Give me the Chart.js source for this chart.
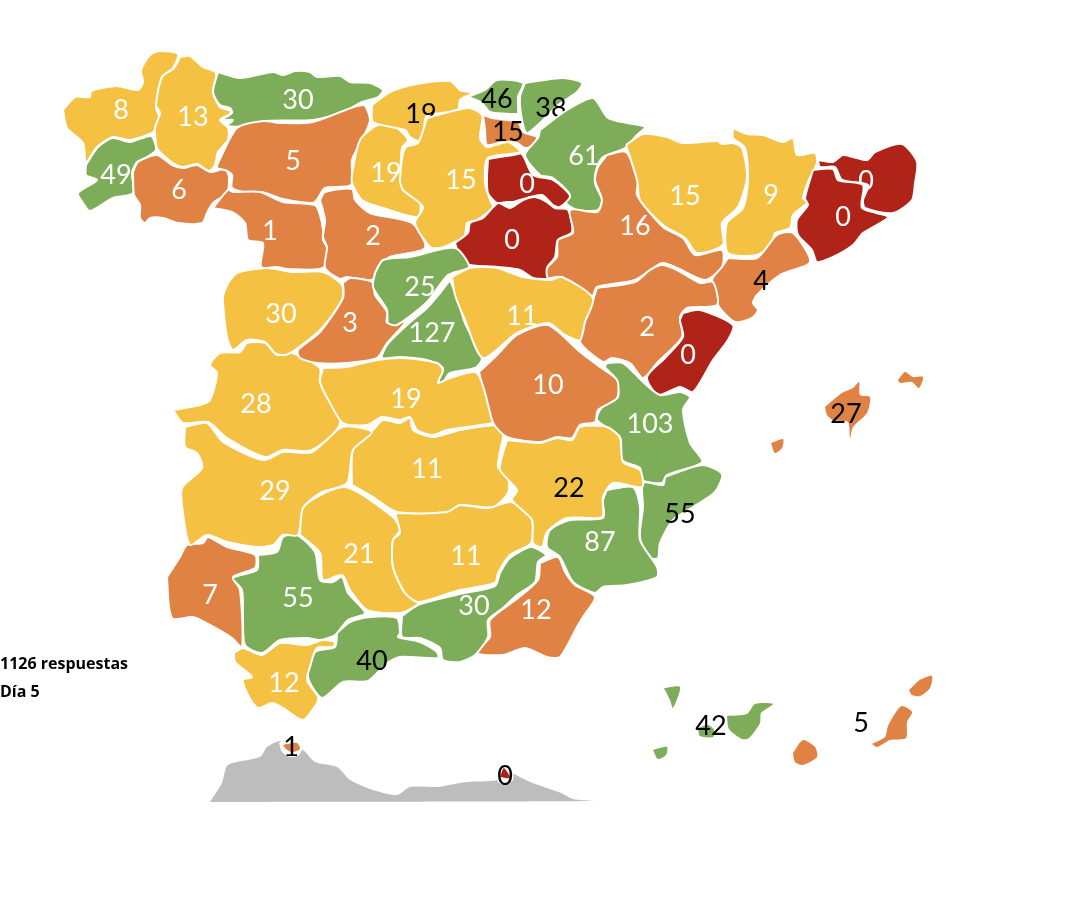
<!DOCTYPE html>
<html>
<head>
<meta charset="utf-8">
<title>Respuestas por provincia</title>
<script src="https://cdn.jsdelivr.net/npm/chart.js@4"></script>
<style>
  html, body { margin: 0; padding: 0; background: #fff; }
  #wrap { width: 1090px; height: 902px; }
</style>
</head>
<body>
<div id="wrap"><canvas id="mapChart" width="1090" height="902"></canvas></div>
<script>
// --------- Data --------

// Later provinces are drawn on top of earlier ones (some labels get cut off by a neighbour)
const provinces = ['Coruña', 'Lugo', 'Asturias', 'Pontevedra', 'Ourense', 'León', 'Zamora', 'Valladolid', 'Palencia',
  'Cantabria', 'Burgos', 'Bizkaia', 'Gipuzkoa', 'Álava', 'Navarra', 'La Rioja', 'Soria', 'Zaragoza', 'Huesca', 'Lleida',
  'Girona', 'Barcelona', 'Tarragona', 'Teruel', 'Castellón', 'Valencia', 'Alicante', 'Murcia', 'Almería', 'Granada',
  'Málaga', 'Cádiz', 'Huelva', 'Sevilla', 'Córdoba', 'Jaén', 'Ciudad Real', 'Badajoz', 'Cáceres', 'Salamanca', 'Ávila',
  'Segovia', 'Madrid', 'Guadalajara', 'Cuenca', 'Albacete', 'Toledo', 'Baleares', 'Tenerife', 'Las Palmas', 'Marruecos',
  'Ceuta', 'Melilla'];

const values = [8, 13, 30, 49, 6, 5, 1, 2, 19, 19, 15, 46, 38, 15, 61, 0, 0, 16, 15, 9, 0, 0, 4, 2, 0, 103, 55, 87, 12, 30,
  40, 12, 7, 55, 21, 11, 11, 29, 28, 30, 3, 25, 127, 11, 10, 22, 19, 27, 42, 5, null, 1, 0];

const bands = ['yellow', 'yellow', 'green', 'green', 'orange', 'orange', 'orange', 'orange', 'yellow', 'yellow', 'yellow',
  'green', 'green', 'orange', 'green', 'red', 'red', 'orange', 'yellow', 'yellow', 'red', 'red', 'orange', 'orange', 'red',
  'green', 'green', 'green', 'orange', 'green', 'green', 'yellow', 'orange', 'green', 'yellow', 'yellow', 'yellow', 'yellow',
  'yellow', 'yellow', 'orange', 'green', 'green', 'yellow', 'orange', 'yellow', 'yellow', 'orange', 'green', 'orange', 'grey',
  'orange', 'red'];

const labelX = [121, 193, 298, 116, 179, 293, 270, 373, 386, 421, 461, 497, 551, 508, 584, 527, 512, 635, 685, 771, 866, 843,
  761, 647, 688, 650, 680, 600, 536, 474, 372, 284, 210, 298, 359, 466, 427, 275, 256, 281, 350, 420, 432, 522, 548, 569, 406,
  846, 711, 861, null, 291, 505];

const labelY = [110, 117, 100, 175, 190, 161, 231, 236, 173, 114, 180, 99, 108, 132, 156, 184, 240, 226, 196, 195, 181, 217,
  281, 327, 355, 424, 514, 542, 610, 606, 661, 683, 595, 598, 554, 556, 469, 491, 404, 314, 323, 287, 333, 316, 385, 488, 399,
  414, 726, 723, null, 747, 776];

const darkLabels = ['Cantabria', 'Bizkaia', 'Gipuzkoa', 'Álava', 'Tarragona', 'Baleares', 'Albacete', 'Alicante', 'Málaga',
  'Tenerife', 'Las Palmas', 'Ceuta', 'Melilla'];

const notes = ['1126 respuestas', 'Día 5'];
const noteY = [664, 692];

// Outlines (x, y in picture pixels)
const coruna = [[63,110],[75,97],[90,97],[91,91],[117,86],[138,90],[143,82],[141,70],[150,55],[160,51],[178,54],[173,68],[162,78],[160,100],[156,107],[160,120],[157,127],[152,133],[130,140],[113,137],[97,147],[86,162],[83,143],[67,128]];
const lugo = [[180,57],[190,56],[203,67],[216,73],[213,92],[220,107],[231,111],[230,114],[220,120],[228,128],[228,140],[218,152],[215,165],[209,171],[197,164],[183,167],[173,163],[163,155],[157,148],[155,128],[160,113],[156,105],[162,77],[174,68]];
const asturias = [[218,72],[240,78],[273,72],[283,75],[295,71],[310,72],[317,77],[340,76],[350,82],[370,83],[383,90],[378,97],[362,102],[343,112],[313,120],[267,121],[250,126],[227,126],[233,120],[222,120],[232,113],[230,108],[220,105],[213,92]];
const pontevedra = [[86,165],[98,147],[113,138],[130,142],[151,136],[156,150],[147,157],[137,162],[132,173],[133,193],[113,198],[90,211],[83,203],[78,193],[97,180],[86,175]];
const ourense = [[133,172],[138,162],[157,155],[172,165],[183,168],[197,165],[210,172],[225,169],[229,177],[227,193],[213,203],[207,213],[202,223],[178,223],[163,218],[150,218],[145,223],[140,218],[140,205],[134,195]];
const leon = [[218,163],[237,128],[263,121],[280,123],[313,122],[363,105],[370,120],[362,140],[352,160],[351,185],[325,188],[318,198],[313,203],[283,199],[262,192],[250,193],[232,188],[232,175],[225,170],[217,168]];
const zamora = [[213,208],[228,190],[233,192],[260,192],[283,202],[315,205],[320,215],[323,230],[323,240],[327,248],[323,268],[287,269],[277,267],[261,267],[263,243],[248,240],[245,223],[232,212]];
const valladolid = [[320,200],[325,192],[352,189],[355,200],[370,213],[412,223],[425,248],[390,257],[378,267],[372,280],[347,277],[340,279],[325,268],[327,247],[323,237],[325,220]];
const palencia = [[352,173],[360,140],[378,125],[397,128],[408,140],[402,148],[402,180],[420,203],[418,217],[383,208],[362,200],[352,183]];
const cantabria = [[372,105],[390,92],[417,84],[450,81],[460,90],[472,93],[460,100],[458,110],[428,115],[425,120],[422,142],[410,137],[405,130],[373,122]];
const burgos = [[427,118],[468,108],[482,115],[480,138],[487,147],[508,142],[520,152],[488,158],[485,183],[490,200],[493,207],[477,220],[467,223],[465,235],[455,242],[440,248],[430,247],[415,223],[423,207],[403,190],[400,180],[405,148],[418,143]];
const bizkaia = [[465,98],[485,90],[497,80],[523,83],[518,97],[518,113],[513,114],[490,112],[482,103],[468,97]];
const gipuzkoa = [[525,83],[563,78],[582,83],[577,92],[558,105],[540,123],[527,133],[522,120],[520,97]];
const alava = [[483,115],[492,118],[518,122],[523,132],[537,137],[533,145],[525,148],[517,143],[503,142],[487,145],[485,130]];
const navarra = [[540,130],[567,110],[593,98],[608,118],[627,123],[645,127],[637,135],[625,148],[603,157],[597,167],[595,183],[602,200],[598,210],[577,210],[565,202],[570,195],[553,178],[540,175],[525,155],[538,138]];
const rioja = [[488,159],[513,155],[522,154],[533,175],[553,180],[570,196],[560,207],[553,205],[542,195],[527,198],[513,202],[507,202],[497,203],[488,193],[487,177]];
const soria = [[455,243],[468,233],[470,223],[483,218],[498,203],[510,208],[523,200],[535,197],[547,202],[555,208],[568,210],[572,232],[558,240],[555,257],[547,268],[552,278],[533,278],[520,270],[497,267],[463,263]];
const zaragoza = [[607,155],[626,152],[638,180],[637,195],[663,227],[683,238],[695,255],[722,250],[722,267],[705,280],[677,268],[662,263],[635,280],[597,287],[592,296],[560,277],[548,278],[547,268],[557,257],[558,240],[573,233],[570,210],[597,212],[602,200],[595,180],[598,167]];
const huesca = [[626,145],[643,134],[667,137],[683,143],[717,141],[722,144],[733,143],[742,148],[747,177],[738,207],[722,223],[723,245],[697,253],[685,238],[663,225],[640,200],[637,180]];
const lleida = [[733,128],[747,134],[763,135],[783,142],[793,138],[797,155],[815,153],[817,163],[808,182],[803,198],[807,203],[793,215],[790,228],[775,233],[772,243],[757,255],[728,253],[727,223],[743,208],[748,180],[745,148],[733,138]];
const girona = [[818,160],[833,162],[843,155],[867,160],[875,152],[902,144],[917,162],[915,183],[912,200],[893,213],[865,208],[863,200],[868,185],[842,180],[835,167],[820,167]];
const barcelona = [[813,170],[833,169],[838,180],[863,185],[862,208],[888,217],[863,233],[853,245],[833,257],[817,262],[812,250],[798,235],[797,220],[808,205],[805,198]];
const tarragona = [[728,258],[757,258],[777,235],[793,233],[810,262],[780,275],[757,295],[753,303],[758,310],[752,318],[735,322],[718,305],[712,280],[722,267]];
const teruel = [[597,288],[635,282],[650,270],[662,265],[677,270],[700,283],[713,282],[717,305],[687,308],[680,317],[682,337],[657,363],[643,378],[630,363],[612,358],[603,362],[580,342],[585,320],[593,300]];
const castellon = [[683,313],[700,310],[733,325],[728,340],[713,360],[693,392],[680,387],[658,395],[647,377],[665,358],[683,337],[680,320]];
const valencia = [[607,363],[623,363],[643,382],[660,395],[680,392],[690,397],[683,410],[690,443],[702,462],[667,475],[662,483],[642,480],[640,468],[622,460],[620,437],[597,420],[602,407],[618,397],[615,378],[605,367]];
const alicante = [[665,477],[702,465],[722,474],[715,492],[693,507],[673,520],[660,543],[658,558],[650,558],[640,538],[643,507],[643,483],[663,485]];
const murcia = [[607,490],[633,487],[640,507],[640,540],[657,567],[657,577],[627,585],[603,587],[595,593],[573,582],[560,557],[547,547],[550,530],[570,520],[603,518],[603,500]];
const almeria = [[540,563],[558,557],[565,572],[575,585],[595,597],[583,617],[577,627],[560,657],[547,657],[525,648],[503,655],[477,653],[490,637],[490,620],[518,598],[538,580]];
const granada = [[402,616],[418,605],[460,594],[495,586],[500,573],[510,558],[531,547],[546,555],[538,562],[535,582],[517,595],[503,608],[488,620],[488,637],[475,655],[460,662],[443,660],[440,648],[420,638],[402,637]];
const malaga = [[337,633],[350,622],[370,617],[397,618],[400,633],[398,637],[420,642],[437,652],[438,658],[400,657],[387,663],[368,681],[343,682],[322,698],[308,677],[315,652],[335,647]];
const cadiz = [[234,653],[243,648],[262,655],[280,643],[307,645],[323,640],[335,642],[333,647],[317,648],[310,667],[307,680],[318,697],[317,703],[303,720],[283,708],[272,703],[258,708],[248,695],[243,680],[252,677],[235,662]];
const huelva = [[167,577],[180,557],[187,545],[203,543],[208,537],[227,547],[255,555],[255,568],[233,577],[240,590],[242,647],[232,638],[210,625],[193,617],[173,619],[169,607]];
const sevilla = [[258,555],[277,552],[283,537],[297,535],[315,552],[320,580],[333,582],[342,577],[348,593],[365,613],[348,620],[335,635],[320,640],[307,638],[280,640],[262,653],[245,645],[243,617],[242,590],[233,578],[257,570]];
const cordoba = [[300,535],[303,507],[345,487],[393,517],[400,530],[393,540],[393,567],[405,593],[418,600],[417,605],[400,613],[367,610],[350,590],[342,575],[323,580],[320,553]];
const jaen = [[395,513],[420,513],[460,505],[487,508],[510,502],[523,508],[532,520],[531,543],[510,555],[498,573],[495,583],[460,590],[450,593],[418,602],[405,593],[393,567],[393,540],[400,533]];
const ciudadReal = [[352,485],[353,450],[373,430],[383,420],[400,423],[410,418],[413,430],[433,437],[460,430],[503,425],[503,437],[498,467],[508,477],[508,493],[493,507],[460,505],[447,512],[397,512],[373,497]];
const badajoz = [[185,427],[207,423],[223,442],[263,460],[283,452],[312,452],[342,427],[372,432],[353,450],[347,483],[320,493],[303,508],[298,535],[283,535],[273,545],[257,547],[227,542],[207,535],[190,545],[183,513],[182,488],[202,468],[197,453],[185,447]];
const caceres = [[173,410],[200,405],[210,400],[217,373],[210,365],[220,353],[240,352],[247,343],[265,343],[277,355],[292,353],[320,368],[320,382],[340,423],[312,450],[283,450],[265,457],[227,438],[208,422],[183,423]];
const salamanca = [[228,283],[237,273],[267,268],[293,272],[323,272],[342,285],[342,300],[320,330],[295,350],[285,355],[275,353],[265,342],[247,340],[233,350],[227,337],[223,297]];
const avila = [[343,283],[350,278],[372,282],[375,295],[387,312],[387,323],[405,322],[387,343],[377,358],[347,363],[317,363],[300,358],[298,350],[320,332],[343,298]];
const segovia = [[375,273],[383,260],[410,257],[455,248],[469,267],[448,275],[427,302],[397,325],[388,323],[387,310],[373,287]];
const madrid = [[450,280],[457,297],[465,323],[482,358],[475,368],[450,373],[442,383],[437,380],[443,368],[427,360],[400,357],[382,358],[387,345],[407,325],[427,308],[440,293]];
const guadalajara = [[452,277],[470,268],[497,268],[523,277],[550,280],[562,277],[593,298],[585,322],[580,340],[565,335],[548,323],[517,333],[483,358],[465,320],[455,295]];
const cuenca = [[479,372],[497,355],[517,335],[548,325],[580,352],[600,367],[617,380],[617,398],[598,410],[595,422],[580,425],[572,438],[557,437],[540,442],[507,437],[493,423],[485,397]];
const albacete = [[507,440],[540,443],[557,438],[572,440],[580,427],[607,427],[620,438],[623,462],[640,470],[642,487],[613,483],[603,497],[602,517],[567,518],[547,532],[542,547],[533,543],[532,520],[512,500],[517,490],[500,470],[503,453]];
const toledo = [[323,368],[347,367],[377,360],[403,358],[437,363],[443,370],[438,383],[450,378],[477,373],[492,420],[493,423],[447,430],[433,435],[417,430],[410,417],[400,420],[382,417],[367,425],[343,423],[330,403],[320,382]];
const mallorca = [[825,407],[842,393],[853,388],[859,382],[860,395],[870,397],[867,413],[853,427],[850,438],[848,422],[833,420],[827,415]];
const menorca = [[898,380],[905,372],[913,377],[923,377],[919,388],[912,382],[900,383]];
const ibiza = [[771,443],[783,439],[782,448],[775,453]];
const laPalma = [[664,688],[680,687],[673,708],[670,700]];
const hierro = [[653,750],[667,747],[666,755],[658,759]];
const gomera = [[698,728],[708,725],[714,730],[713,737],[700,736]];
const tenerife = [[727,716],[747,714],[755,704],[773,704],[761,713],[760,723],[749,738],[742,739],[729,729]];
const granCanaria = [[793,753],[803,740],[815,747],[817,757],[803,765],[795,762]];
const fuerteventura = [[872,744],[885,737],[888,726],[896,712],[902,706],[912,712],[907,722],[906,738],[890,740],[877,747]];
const lanzarote = [[909,690],[920,680],[932,676],[930,688],[920,696],[912,695]];
const marruecos = [[210,802],[222,783],[228,765],[260,757],[267,747],[280,741],[290,745],[303,750],[315,762],[337,767],[350,780],[373,790],[397,795],[410,787],[437,787],[467,782],[497,780],[506,770],[516,775],[530,782],[561,793],[573,799],[593,801]];
const ceutaHalo = [[279,743],[285,738],[298,738],[303,745],[299,755],[290,757],[282,752]];
const ceuta = [[283,745],[297,743],[300,749],[292,752],[286,749]];
const melillaHalo = [[497,772],[503,765],[512,770],[513,780],[505,785],[498,782]];
const melilla = [[500,777],[504,768],[510,778]];

const outlines = [[coruna], [lugo], [asturias], [pontevedra], [ourense], [leon], [zamora], [valladolid], [palencia],
  [cantabria], [burgos], [bizkaia], [gipuzkoa], [alava], [navarra], [rioja], [soria], [zaragoza], [huesca], [lleida],
  [girona], [barcelona], [tarragona], [teruel], [castellon], [valencia], [alicante], [murcia], [almeria], [granada],
  [malaga], [cadiz], [huelva], [sevilla], [cordoba], [jaen], [ciudadReal], [badajoz], [caceres], [salamanca], [avila],
  [segovia], [madrid], [guadalajara], [cuenca], [albacete], [toledo], [ibiza, menorca, mallorca],
  [laPalma, hierro, tenerife, gomera], [lanzarote, fuerteventura, granCanaria], [marruecos], [ceutaHalo, ceuta], [melillaHalo, melilla]];

// --------- Chart --------

const bandColors = { red: '#B02318', orange: '#E08243', yellow: '#F5C143', green: '#7EAD59', grey: '#BDBDBD' };

const datasets = [];
provinces.forEach((name, p) => {
    outlines[p].forEach((ring, r) => {
        const isHalo = ring === ceutaHalo || ring === melillaHalo;
        const color = isHalo ? '#ffffff' : bandColors[bands[p]];
        datasets.push({
            label: name,
            province: p,
            lastRing: r === outlines[p].length - 1,
            data: ring.concat([ring[0]]).map(pt => ({ x: pt[0], y: pt[1] })),
            showLine: true,
            fill: 'shape',
            tension: 0.25,
            backgroundColor: color,
            borderColor: bands[p] === 'grey' ? color : '#ffffff',
            borderWidth: bands[p] === 'grey' || outlines[p].length > 1 ? 0 : 2,
            pointRadius: 0
        });
    });
});
// first ones go underneath
datasets.forEach((d, i) => { d.order = datasets.length - i; });

// draws a province value right after its shape, so later shapes can cover it
const valueLabels = {
    id: 'valueLabels',
    afterDatasetDraw(chart, args) {
        const ds = chart.data.datasets[args.index];
        const p = ds.province;
        if (!ds.lastRing || values[p] === null) return;
        const ctx = chart.ctx;
        ctx.save();
        ctx.font = '27px Lato';
        ctx.textAlign = 'center';
        ctx.textBaseline = 'middle';
        ctx.fillStyle = darkLabels.includes(provinces[p]) ? '#000000' : '#ffffff';
        ctx.fillText(String(values[p]), chart.scales.x.getPixelForValue(labelX[p]), chart.scales.y.getPixelForValue(labelY[p]));
        ctx.restore();
    },
    afterDraw(chart) {
        const ctx = chart.ctx;
        ctx.save();
        ctx.font = 'bold 16px "Open Sans"';
        ctx.textAlign = 'left';
        ctx.textBaseline = 'middle';
        ctx.fillStyle = '#000000';
        notes.forEach((text, i) => ctx.fillText(text, 0, chart.scales.y.getPixelForValue(noteY[i])));
        ctx.restore();
    }
};

const ctxMap = document.getElementById('mapChart').getContext('2d');
const mapChart = new Chart(ctxMap, {
    type: 'scatter',
    data: { datasets: datasets },
    options: {
        responsive: false,
        animation: false,
        layout: { padding: 0 },
        plugins: { legend: { display: false }, tooltip: { enabled: false }, title: { display: false } },
        scales: {
            x: { type: 'linear', display: false, min: 0, max: 1090 },
            y: { type: 'linear', display: false, min: 0, max: 902, reverse: true }
        }
    },
    plugins: [valueLabels]
});
</script>
</body>
</html>
